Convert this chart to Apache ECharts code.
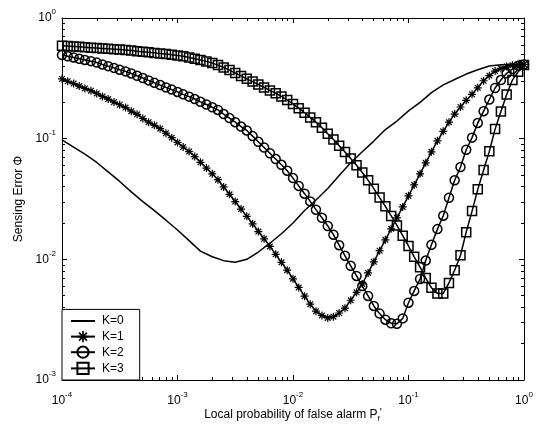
<!DOCTYPE html>
<html>
<head>
<meta charset="utf-8">
<script src="https://cdn.jsdelivr.net/npm/echarts@6/dist/echarts.min.js"></script>
<style>
    html, body { margin: 0; padding: 0; background: #fff; }
    #main { width: 540px; height: 425px; }
</style>
</head>
<body>
<div id="main"></div>
<script>
    // local probability of false alarm, 0.05 decade steps (markers)
    var pf = [
        1.00e-4, 1.12e-4, 1.26e-4, 1.41e-4, 1.58e-4, 1.78e-4, 2.00e-4, 2.24e-4, 2.51e-4, 2.82e-4,
        3.16e-4, 3.55e-4, 3.98e-4, 4.47e-4, 5.01e-4, 5.62e-4, 6.31e-4, 7.08e-4, 7.94e-4, 8.91e-4,
        1.00e-3, 1.12e-3, 1.26e-3, 1.41e-3, 1.58e-3, 1.78e-3, 2.00e-3, 2.24e-3, 2.51e-3, 2.82e-3,
        3.16e-3, 3.55e-3, 3.98e-3, 4.47e-3, 5.01e-3, 5.62e-3, 6.31e-3, 7.08e-3, 7.94e-3, 8.91e-3,
        1.00e-2, 1.12e-2, 1.26e-2, 1.41e-2, 1.58e-2, 1.78e-2, 2.00e-2, 2.24e-2, 2.51e-2, 2.82e-2,
        3.16e-2, 3.55e-2, 3.98e-2, 4.47e-2, 5.01e-2, 5.62e-2, 6.31e-2, 7.08e-2, 7.94e-2, 8.91e-2,
        1.00e-1, 1.12e-1, 1.26e-1, 1.41e-1, 1.58e-1, 1.78e-1, 2.00e-1, 2.24e-1, 2.51e-1, 2.82e-1,
        3.16e-1, 3.55e-1, 3.98e-1, 4.47e-1, 5.01e-1, 5.62e-1, 6.31e-1, 7.08e-1, 7.94e-1, 8.91e-1,
        1.0
    ];
    // K=0 curve has no markers, 0.1 decade steps
    var pf0 = [
        1.00e-4, 1.26e-4, 1.58e-4, 2.00e-4, 2.51e-4, 3.16e-4, 3.98e-4, 5.01e-4, 6.31e-4, 7.94e-4,
        1.00e-3, 1.26e-3, 1.58e-3, 2.00e-3, 2.51e-3, 3.16e-3, 3.98e-3, 5.01e-3, 6.31e-3, 7.94e-3,
        1.00e-2, 1.26e-2, 1.58e-2, 2.00e-2, 2.51e-2, 3.16e-2, 3.98e-2, 5.01e-2, 6.31e-2, 7.94e-2,
        1.00e-1, 1.26e-1, 1.58e-1, 2.00e-1, 2.51e-1, 3.16e-1, 3.98e-1, 5.01e-1, 6.31e-1, 7.94e-1,
        1.0
    ];

    var k0 = [
        0.0977, 0.0851, 0.0743, 0.0635, 0.0530, 0.0442, 0.0362, 0.0301, 0.0253, 0.0211,
        0.0175, 0.0143, 0.0117, 0.0105, 0.00975, 0.00945, 0.0100, 0.0115, 0.0136, 0.0163,
        0.0200, 0.0254, 0.0310, 0.0387, 0.0494, 0.0632, 0.0778, 0.0955, 0.119, 0.140,
        0.170, 0.200, 0.241, 0.279, 0.309, 0.343, 0.373, 0.400, 0.410, 0.413,
        0.413
    ];
    var k1 = [
        0.313, 0.299, 0.286, 0.273, 0.261, 0.250, 0.237, 0.224, 0.213, 0.201,
        0.191, 0.181, 0.169, 0.159, 0.147, 0.137, 0.129, 0.121, 0.111, 0.102,
        0.0931, 0.0853, 0.0782, 0.0711, 0.0637, 0.0570, 0.0511, 0.0457, 0.0398, 0.0346,
        0.0301, 0.0261, 0.0227, 0.0197, 0.0170, 0.0148, 0.0128, 0.0110, 0.00944, 0.00813,
        0.00690, 0.00585, 0.00495, 0.00425, 0.00372, 0.00343, 0.00327, 0.00335, 0.00359, 0.00394,
        0.00458, 0.00533, 0.00625, 0.00771, 0.00953, 0.0118, 0.0145, 0.0179, 0.0221, 0.0272,
        0.0336, 0.0414, 0.0511, 0.0631, 0.0778, 0.0959, 0.115, 0.137, 0.160, 0.183,
        0.208, 0.233, 0.264, 0.302, 0.333, 0.363, 0.382, 0.396, 0.406, 0.410,
        0.413
    ];
    var k2 = [
        0.493, 0.482, 0.471, 0.459, 0.449, 0.439, 0.427, 0.412, 0.399, 0.386,
        0.373, 0.361, 0.347, 0.332, 0.318, 0.304, 0.290, 0.278, 0.266, 0.255,
        0.244, 0.233, 0.223, 0.213, 0.202, 0.192, 0.182, 0.173, 0.160, 0.148,
        0.137, 0.126, 0.117, 0.105, 0.0942, 0.0845, 0.0757, 0.0678, 0.0607, 0.0543,
        0.0471, 0.0406, 0.0350, 0.0302, 0.0258, 0.0221, 0.0189, 0.0160, 0.0131, 0.0107,
        0.00883, 0.00728, 0.00601, 0.00497, 0.00411, 0.00355, 0.00316, 0.00295, 0.00292, 0.00324,
        0.00437, 0.00547, 0.00687, 0.00977, 0.0132, 0.0178, 0.0230, 0.0324, 0.0452, 0.0582,
        0.0809, 0.102, 0.135, 0.169, 0.211, 0.263, 0.306, 0.348, 0.378, 0.403,
        0.412
    ];
    var k3 = [
        0.589, 0.585, 0.581, 0.577, 0.572, 0.568, 0.564, 0.560, 0.556, 0.552,
        0.547, 0.542, 0.537, 0.531, 0.526, 0.520, 0.514, 0.508, 0.502, 0.497,
        0.490, 0.481, 0.471, 0.460, 0.449, 0.437, 0.423, 0.407, 0.389, 0.370,
        0.350, 0.331, 0.313, 0.297, 0.281, 0.266, 0.251, 0.238, 0.224, 0.209,
        0.194, 0.179, 0.164, 0.150, 0.137, 0.123, 0.110, 0.0984, 0.0875, 0.0776,
        0.0684, 0.0603, 0.0525, 0.0452, 0.0385, 0.0325, 0.0275, 0.0229, 0.0191, 0.0157,
        0.0129, 0.0105, 0.00861, 0.00700, 0.00582, 0.00522, 0.00522, 0.00638, 0.00813, 0.0108,
        0.0168, 0.0251, 0.0380, 0.0550, 0.0785, 0.120, 0.168, 0.232, 0.306, 0.359,
        0.407
    ];

    var names = ['K=0', 'K=1', 'K=2', 'K=3'];
    var xMajor = [1e-4, 1e-3, 1e-2, 1e-1, 1];
    var yMajor = [1e-3, 1e-2, 1e-1, 1];

    // 2..9 between decades
    function minorTicks(lo, hi) {
        var out = [];
        for (var d = lo; d < hi; d++) {
            for (var k = 2; k <= 9; k++) {
                out.push(k * Math.pow(10, d));
            }
        }
        return out;
    }
    var xMinor = minorTicks(-4, 0);
    var yMinor = minorTicks(-3, 0);

    function zip(xs, ys) {
        return xs.map(function (x, i) { return [x, ys[i]]; });
    }

    var font = "'Liberation Sans', Arial, Helvetica, sans-serif";
    var powRich = {
        b: { fontSize: 12, lineHeight: 20, color: '#000', fontFamily: font },
        s: { fontSize: 8, lineHeight: 8, verticalAlign: 'top', color: '#000', fontFamily: font }
    };
    function powLabel(v) {
        var e = Math.round(Math.log10(v));
        return '{b|10}{s|' + e + '}';
    }

    // one axis per tick set, so major ticks can be longer than minor ones
    function axis(dim, pos, ticks, len, main) {
        return {
            type: 'log',
            logBase: 10,
            min: dim === 'x' ? 1e-4 : 1e-3,
            max: 1,
            position: pos,
            splitLine: { show: false },
            axisLine: { show: main, lineStyle: { color: '#000', width: 1 } },
            axisTick: {
                show: true,
                inside: true,
                length: len,
                customValues: ticks,
                lineStyle: { color: '#000', width: 1 }
            },
            axisLabel: { show: false },
            axisPointer: { show: false }
        };
    }

    var xAxes = [
        axis('x', 'bottom', xMajor, 5, true),
        axis('x', 'bottom', xMinor, 3, false),
        axis('x', 'top', xMajor, 5, true),
        axis('x', 'top', xMinor, 3, false)
    ];
    var yAxes = [
        axis('y', 'left', yMajor, 5, true),
        axis('y', 'left', yMinor, 3, false),
        axis('y', 'right', yMajor, 5, true),
        axis('y', 'right', yMinor, 3, false)
    ];

    xAxes[0].axisLabel = {
        show: true,
        customValues: xMajor,
        margin: 11,
        formatter: powLabel,
        rich: powRich
    };
    xAxes[0].name = 'Local probability of false alarm P{f|f}{p|\'}';
    xAxes[0].nameLocation = 'middle';
    xAxes[0].nameGap = 27;
    xAxes[0].nameMoveOverlap = false;
    xAxes[0].nameTextStyle = {
        fontSize: 12, lineHeight: 16, color: '#000', fontFamily: font,
        rich: {
            f: { fontSize: 8, lineHeight: 8, verticalAlign: 'bottom', color: '#000', fontFamily: font },
            p: { fontSize: 11, lineHeight: 11, verticalAlign: 'top', color: '#000', fontFamily: font }
        }
    };

    yAxes[0].axisLabel = {
        show: true,
        customValues: yMajor,
        margin: 6,
        formatter: powLabel,
        rich: powRich
    };
    yAxes[0].name = 'Sensing Error \u03A6';
    yAxes[0].nameLocation = 'middle';
    yAxes[0].nameGap = 37;
    yAxes[0].nameMoveOverlap = false;
    yAxes[0].nameTextStyle = { fontSize: 12, color: '#000', fontFamily: font };

    // asterisk marker: + and x bars
    var starPath = 'path://M-1.5,-10L1.5,-10L1.5,10L-1.5,10Z' +
        'M-10,-1.5L10,-1.5L10,1.5L-10,1.5Z' +
        'M6,-8.1L8.1,-6L-6,8.1L-8.1,6Z' +
        'M-8.1,-6L-6,-8.1L8.1,6L6,8.1Z';

    var lineStyle = { color: '#000', width: 1.5 };

    var myChart = echarts.init(document.getElementById('main'), null, { renderer: 'canvas' });

    var option = {
        animation: false,
        backgroundColor: '#fff',
        grid: {
            left: 62, right: 16, top: 18, bottom: 45,
            containLabel: false,
            outerBoundsMode: 'none'
        },
        legend: {
            left: 62,
            bottom: 45,
            orient: 'vertical',
            data: [
                { name: names[0], itemStyle: { opacity: 0 } },
                names[1], names[2], names[3]
            ],
            selectedMode: false,
            backgroundColor: '#fff',
            borderColor: '#000',
            borderWidth: 1,
            borderRadius: 0,
            padding: [5, 16, 5, 8],
            itemGap: 3,
            itemWidth: 24,
            itemHeight: 14,
            textStyle: { fontSize: 12, color: '#000', fontFamily: font, padding: [0, 0, 0, 2] },
            z: 10
        },
        xAxis: xAxes,
        yAxis: yAxes,
        series: [
            {
                name: names[0],
                type: 'line',
                data: zip(pf0, k0),
                showSymbol: false,
                lineStyle: lineStyle,
                itemStyle: { color: '#000' }
            },
            {
                name: names[1],
                type: 'line',
                data: zip(pf, k1),
                symbol: starPath,
                symbolSize: 8,
                lineStyle: lineStyle,
                itemStyle: { color: '#000' }
            },
            {
                name: names[2],
                type: 'line',
                data: zip(pf, k2),
                symbol: 'circle',
                symbolSize: 9,
                lineStyle: lineStyle,
                itemStyle: { color: 'rgba(0,0,0,0)', borderColor: '#000', borderWidth: 1.5 }
            },
            {
                name: names[3],
                type: 'line',
                data: zip(pf, k3),
                symbol: 'rect',
                symbolSize: 9,
                lineStyle: lineStyle,
                itemStyle: { color: 'rgba(0,0,0,0)', borderColor: '#000', borderWidth: 1.5 }
            }
        ]
    };

    myChart.setOption(option);
</script>
</body>
</html>
